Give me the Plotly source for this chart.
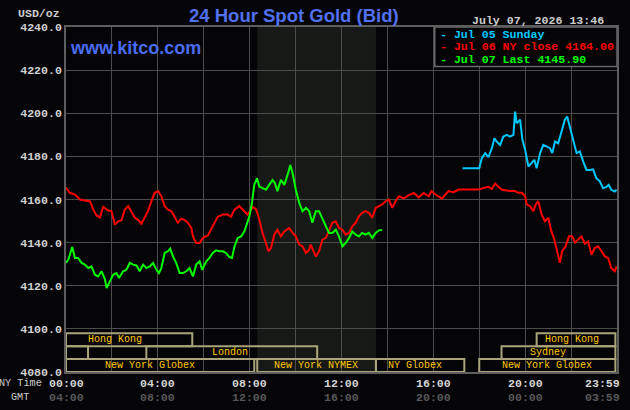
import plotly.graph_objects as go

# ---------------- data ----------------
# Jul 06 (NY close 4164.00) - hours since 00:00 NY time, price
red_t = [0.00, 0.17, 0.39, 0.61, 0.82, 1.04, 1.19, 1.33, 1.48, 1.62, 1.84, 1.98, 2.13, 2.27, 2.42,
         2.56, 2.71, 2.85, 3.00, 3.14, 3.28, 3.43, 3.57, 3.72, 3.86, 4.01, 4.15, 4.30, 4.44, 4.59,
         4.73, 4.87, 5.02, 5.17, 5.31, 5.46, 5.53, 5.67, 5.82, 5.96, 6.18, 6.32, 6.47, 6.61, 6.83,
         7.04, 7.19, 7.34, 7.55, 7.70, 7.91, 8.13, 8.28, 8.42, 8.56, 8.71, 8.81, 8.93, 9.07, 9.21,
         9.36, 9.51, 9.72, 9.87, 10.01, 10.16, 10.30, 10.45, 10.59, 10.66, 10.76, 10.88, 11.02,
         11.17, 11.32, 11.46, 11.60, 11.75, 11.89, 12.04, 12.18, 12.33, 12.47, 12.62, 12.76, 12.90,
         13.05, 13.19, 13.34, 13.49, 13.63, 13.77, 13.92, 14.06, 14.21, 14.35, 14.50, 14.71, 14.93,
         15.15, 15.36, 15.58, 15.80, 15.92, 16.09, 16.23, 16.38, 16.52, 16.67, 16.88, 17.10, 17.53,
         17.97, 18.19, 18.40, 18.55, 18.69, 18.84, 18.98, 19.13, 19.34, 19.56, 19.70, 19.85, 20.00,
         20.07, 20.21, 20.36, 20.46, 20.57, 20.72, 20.86, 21.01, 21.12, 21.27, 21.41, 21.51, 21.61,
         21.76, 21.91, 22.05, 22.17, 22.31, 22.45, 22.60, 22.74, 22.89, 23.03, 23.18, 23.32, 23.47,
         23.61, 23.75, 23.90, 23.98]
red_v = [4165.4, 4163.1, 4162.3, 4160.0, 4159.5, 4159.2, 4155.3, 4152.6, 4151.7, 4156.6, 4154.9, 4154.6,
         4148.4, 4149.9, 4150.4, 4155.3, 4156.9, 4154.6, 4151.5, 4150.6, 4148.8, 4151.7, 4154.6, 4159.2,
         4163.1, 4163.9, 4161.5, 4156.9, 4155.3, 4154.6, 4151.7, 4149.2, 4151.1, 4150.4, 4149.2, 4146.8,
         4142.9, 4139.8, 4139.8, 4142.2, 4143.3, 4146.0, 4149.2, 4152.0, 4153.0, 4153.0, 4152.0, 4155.3,
         4156.9, 4155.3, 4153.0, 4156.6, 4155.5, 4150.7, 4144.5, 4139.8, 4136.0, 4137.5, 4143.7, 4146.0,
         4142.9, 4145.2, 4146.8, 4144.5, 4142.9, 4139.1, 4138.3, 4135.2, 4136.7, 4139.1, 4136.7, 4133.6,
         4136.0, 4141.4, 4142.2, 4146.0, 4149.2, 4149.9, 4146.8, 4146.0, 4143.7, 4144.5, 4147.6, 4149.2,
         4152.2, 4153.8, 4154.6, 4153.8, 4151.5, 4156.1, 4156.9, 4157.7, 4159.2, 4160.0, 4156.1, 4159.2,
         4161.5, 4160.5, 4162.0, 4163.0, 4161.0, 4163.0, 4161.5, 4163.9, 4162.3, 4161.2, 4160.4, 4162.3,
         4163.9, 4163.4, 4164.6, 4164.6, 4164.6, 4165.4, 4165.9, 4164.9, 4167.4, 4165.9, 4164.6, 4164.3,
         4163.9, 4163.9, 4163.1, 4163.1, 4161.5, 4157.7, 4156.9, 4154.6, 4157.7, 4159.2, 4153.0, 4149.9,
         4151.5, 4146.0, 4141.4, 4135.2, 4130.6, 4136.0, 4138.3, 4142.9, 4142.9, 4140.0, 4141.4, 4142.9,
         4139.5, 4140.6, 4134.4, 4137.5, 4138.3, 4136.0, 4133.6, 4132.9, 4128.2, 4126.7, 4129.0]

# Jul 07 (last 4145.90)
green_t = [0.00, 0.10, 0.17, 0.27, 0.39, 0.53, 0.68, 0.82, 0.97, 1.11, 1.26, 1.40, 1.55, 1.69, 1.77,
           1.91, 2.05, 2.20, 2.31, 2.49, 2.63, 2.78, 2.92, 3.07, 3.21, 3.36, 3.50, 3.65, 3.79, 3.94,
           4.05, 4.15, 4.30, 4.44, 4.54, 4.66, 4.80, 4.95, 5.09, 5.24, 5.38, 5.53, 5.67, 5.82, 5.93,
           6.11, 6.25, 6.39, 6.54, 6.68, 6.83, 6.97, 7.12, 7.23, 7.34, 7.48, 7.63, 7.77, 7.99, 8.10,
           8.20, 8.32, 8.42, 8.56, 8.71, 8.85, 9.00, 9.10, 9.21, 9.36, 9.51, 9.65, 9.77, 9.87, 10.01,
           10.16, 10.30, 10.45, 10.59, 10.73, 10.88, 11.02, 11.17, 11.32, 11.46, 11.60, 11.75, 11.89,
           12.04, 12.18, 12.33, 12.47, 12.62, 12.76, 12.90, 13.05, 13.19, 13.34, 13.49, 13.63, 13.77]
green_v = [4130.6, 4132.1, 4134.4, 4138.0, 4132.9, 4132.9, 4130.6, 4129.8, 4128.2, 4129.0, 4125.1, 4124.3,
           4126.7, 4123.2, 4118.9, 4122.0, 4125.1, 4125.9, 4123.6, 4126.7, 4127.4, 4130.6, 4129.8, 4129.4,
           4126.7, 4129.8, 4128.2, 4129.0, 4130.6, 4127.4, 4125.9, 4128.2, 4135.2, 4136.0, 4137.2, 4133.6,
           4130.6, 4125.9, 4125.9, 4126.7, 4128.2, 4124.3, 4129.8, 4131.3, 4127.4, 4131.3, 4132.9, 4135.2,
           4136.4, 4136.0, 4136.0, 4135.2, 4133.3, 4132.9, 4138.3, 4142.2, 4142.9, 4145.2, 4152.2, 4158.4,
           4166.8, 4169.9, 4166.0, 4165.3, 4164.5, 4166.8, 4169.1, 4167.6, 4163.9, 4169.1, 4166.8, 4171.4,
           4176.0, 4172.2, 4164.5, 4158.4, 4154.6, 4156.1, 4154.6, 4149.2, 4154.6, 4154.6, 4150.7, 4147.6,
           4144.5, 4144.5, 4146.0, 4142.9, 4138.3, 4139.8, 4142.2, 4145.2, 4143.7, 4142.9, 4144.5, 4143.7,
           4144.5, 4142.2, 4144.5, 4145.7, 4145.9]

# Jul 05 Sunday
cyan_t = [17.27, 18.00, 18.11, 18.26, 18.40, 18.55, 18.66, 18.76, 18.91, 19.05, 19.20, 19.34, 19.49,
          19.56, 19.63, 19.78, 19.88, 20.00, 20.14, 20.28, 20.40, 20.50, 20.65, 20.79, 20.93, 21.08,
          21.18, 21.30, 21.44, 21.58, 21.73, 21.83, 21.95, 22.09, 22.24, 22.38, 22.53, 22.67, 22.82,
          22.96, 23.10, 23.25, 23.39, 23.53, 23.64, 23.75, 23.90, 23.98]
cyan_v = [4174.5, 4174.5, 4179.2, 4181.5, 4179.6, 4183.8, 4188.4, 4186.9, 4185.3, 4189.2, 4190.0, 4189.2,
          4190.0, 4200.8, 4195.4, 4197.0, 4187.7, 4183.0, 4175.3, 4176.8, 4178.4, 4174.5, 4181.5, 4185.3,
          4184.5, 4183.8, 4181.5, 4186.9, 4186.1, 4191.5, 4197.0, 4198.5, 4193.9, 4187.7, 4181.5, 4182.3,
          4177.6, 4173.7, 4173.7, 4174.0, 4169.9, 4168.4, 4165.3, 4165.7, 4166.8, 4164.5, 4163.7, 4164.5]

series_names = ["Jul 05 Sunday", "Jul 06 NY close 4164.00", "Jul 07 Last 4145.90"]
series_colors = ["#00c8ff", "#ff0000", "#00ff00"]

y_ticks = [4080, 4100, 4120, 4140, 4160, 4180, 4200, 4220, 4240]
tick_hours = [0, 4, 8, 12, 16, 20, 24]
ny_labels = ["00:00", "04:00", "08:00", "12:00", "16:00", "20:00", "23:59"]
gmt_labels = ["04:00", "08:00", "12:00", "16:00", "20:00", "00:00", "03:59"]

# trading sessions: row 1 top .. row 3 bottom
session_names = ["Hong Kong", "", "London", "New York Globex", "New York NYMEX", "NY Globex",
                 "Hong Kong", "Sydney", "New York Globex"]
session_rows = [1, 2, 2, 3, 3, 3, 1, 2, 3]
session_start = [0.0, 0.0, 3.5, 0.0, 8.33, 13.5, 20.5, 18.97, 18.0]
session_end = [5.5, 0.96, 10.94, 8.2, 13.5, 17.35, 23.93, 23.93, 23.93]
session_label_x = [2.13, 0.5, 7.16, 3.65, 10.9, 15.19, 22.05, 20.98, 20.96]
row_bounds = {1: (4092, 4098), 2: (4086, 4092), 3: (4080, 4086)}

nymex_window = (8.333, 13.5)

# ---------------- figure ----------------
BG = "#050508"
MONO = "Liberation Mono"

fig = go.Figure()
for t, v, name, color in [(red_t, red_v, series_names[1], series_colors[1]),
                          (cyan_t, cyan_v, series_names[0], series_colors[0]),
                          (green_t, green_v, series_names[2], series_colors[2])]:
    fig.add_trace(go.Scatter(x=t, y=v, mode="lines", name=name,
                             line=dict(color=color, width=2), showlegend=False,
                             hoverinfo="skip"))

shapes = []
# NYMEX shaded window
shapes.append(dict(type="rect", xref="x", yref="y", x0=nymex_window[0], x1=nymex_window[1],
                   y0=4080, y1=4240, fillcolor="#171917", line=dict(width=0), layer="below"))
# session boxes
for s, e, r in zip(session_start, session_end, session_rows):
    y0, y1 = row_bounds[r]
    shapes.append(dict(type="rect", xref="x", yref="y", x0=s, x1=e, y0=y0, y1=y1,
                       line=dict(color="#a9a47a", width=2), fillcolor="rgba(0,0,0,0)", layer="above"))
# legend box
shapes.append(dict(type="rect", xref="x", yref="y", x0=16.06, x1=24, y0=4221.7, y1=4240,
                   fillcolor=BG, line=dict(color="#6a6a6a", width=1.5), layer="above"))

annotations = []
for name, r, lx in zip(session_names, session_rows, session_label_x):
    if not name:
        continue
    y0, y1 = row_bounds[r]
    annotations.append(dict(x=lx, y=(y0 + y1) / 2, xref="x", yref="y", text=name, showarrow=False,
                            font=dict(family=MONO, size=10, color="#ffc800"),
                            xanchor="center", yanchor="middle"))

# legend entries
legend_y = [0.9788, 0.9449, 0.9064]
for name, color, ly in zip(series_names, series_colors, legend_y):
    annotations.append(dict(x=16.2, y=ly, xref="x", yref="paper", text="- " + name, showarrow=False,
                            font=dict(family=MONO, size=11.6, color=color, weight="bold"),
                            xanchor="left", yanchor="middle"))

# x axis labels (NY time and GMT)
for h, ny, gmt in zip(tick_hours, ny_labels, gmt_labels):
    anchor = "right" if h == 24 else "center"
    shift = 5 if h == 24 else 0
    annotations.append(dict(x=h, y=-0.0319, xref="x", yref="paper", text=ny, showarrow=False,
                            font=dict(family=MONO, size=11.6, color="#d4d4d4", weight="bold"),
                            xanchor=anchor, yanchor="middle", xshift=shift))
    annotations.append(dict(x=h, y=-0.0725, xref="x", yref="paper", text=gmt, showarrow=False,
                            font=dict(family=MONO, size=11.6, color="#585858", weight="bold"),
                            xanchor=anchor, yanchor="middle", xshift=shift))
annotations.append(dict(x=-0.0398, y=-0.0319, xref="paper", yref="paper", text="NY Time",
                        showarrow=False, font=dict(family=MONO, size=10.2, color="#cccccc"),
                        xanchor="right", yanchor="middle"))
annotations.append(dict(x=-0.0841, y=-0.0725, xref="paper", yref="paper", text="GMT",
                        showarrow=False, font=dict(family=MONO, size=10.2, color="#cccccc"),
                        xanchor="center", yanchor="middle"))

# header texts
annotations.append(dict(x=0.4136, y=1.0333, xref="paper", yref="paper", text="24 Hour Spot Gold (Bid)",
                        showarrow=False, font=dict(family="Liberation Sans", size=18.5, color="#5270f2",
                                                   weight="bold"),
                        xanchor="center", yanchor="middle"))
annotations.append(dict(x=-0.0072, y=1.0377, xref="paper", yref="paper", text="USD/oz",
                        showarrow=False, font=dict(family=MONO, size=11.6, color="#cccccc", weight="bold"),
                        xanchor="right", yanchor="middle"))
annotations.append(dict(x=0.9807, y=1.0188, xref="paper", yref="paper", text="July 07, 2026 13:46",
                        showarrow=False, font=dict(family=MONO, size=11.6, color="#cccccc", weight="bold"),
                        xanchor="right", yanchor="middle"))
annotations.append(dict(x=0.0036, y=0.9391, xref="paper", yref="paper", text="www.kitco.com",
                        showarrow=False, font=dict(family="Liberation Sans", size=18, color="#4a6cf0",
                                                   weight="bold"),
                        xanchor="left", yanchor="middle"))

fig.update_layout(
    width=630, height=410,
    margin=dict(l=66, r=11, t=27, b=38),
    paper_bgcolor=BG, plot_bgcolor=BG,
    showlegend=False,
    shapes=shapes, annotations=annotations,
    xaxis=dict(range=[0, 24], tick0=0, dtick=2, showticklabels=False, ticks="",
               showgrid=True, gridcolor="#4c4c4c", gridwidth=1, zeroline=False,
               showline=True, linecolor="#5e5e5e", linewidth=1.5, mirror=True, fixedrange=True),
    yaxis=dict(range=[4080, 4240], tickvals=y_ticks, tickformat=".1f", ticks="",
               tickfont=dict(family=MONO, size=11.6, color="#d0d0d0", weight="bold"),
               showgrid=True, gridcolor="#4c4c4c", gridwidth=1, zeroline=False,
               showline=True, linecolor="#5e5e5e", linewidth=1.5, mirror=True, fixedrange=True),
)

fig.write_html("out.html")
